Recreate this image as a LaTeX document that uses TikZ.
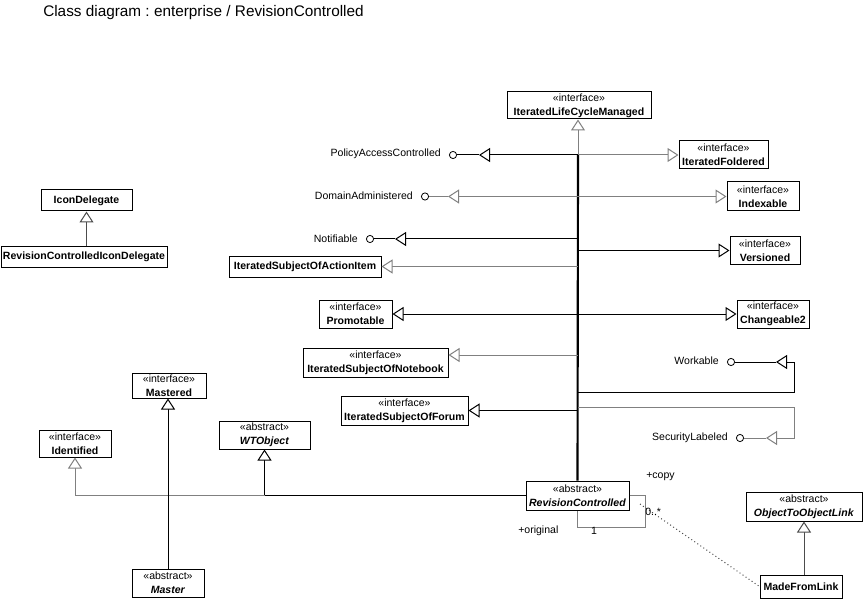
\documentclass[tikz,border=0pt]{standalone}
\usepackage{fontspec}
\setmainfont{Liberation Sans}
\usetikzlibrary{arrows.meta,calc}
\frenchspacing
\newcommand\iface[1]{«interface»\\\textbf{#1}}
\newcommand\abst[1]{«abstract»\\\textbf{\itshape #1}}
% class box given by its name, left, top, right, bottom and text
\newcommand\clsbox[6]{\node[cls, minimum width={(#4-#2)*0.75pt}, minimum height={(#5-#3)*0.75pt}]
  (#1) at ({(#2+#4)/2},{(#3+#5)/2}) {#6};}
\begin{document}
\begin{tikzpicture}[x=0.75pt,y=-0.75pt,
  txt/.style={font=\fontsize{7.9}{9.2}\selectfont, inner sep=0pt},
  cls/.style={draw=black, fill=white, line width=0.75pt, inner sep=0pt, align=center,
              font=\fontsize{7.9}{10.3}\selectfont},
  ball/.style={circle, draw=black, fill=white, line width=0.6pt, inner sep=0pt, minimum size=5.4pt},
  blk/.style={draw=black, line width=0.75pt},
  gry/.style={draw=black!50, line width=0.75pt},
  dgry/.style={draw=black!70, line width=0.75pt},
  main/.style={draw=black, line width=1.6pt},
  gen/.style={-{Triangle[open, length=8.25pt, width=10.5pt, fill=white]}},
  gen2/.style={{Triangle[open, length=8.25pt, width=10.5pt, fill=white]}-{Triangle[open, length=8.25pt, width=10.5pt, fill=white]}},
  dots/.style={draw=black!70, line width=0.75pt, dash pattern=on 0.75pt off 2pt},
]
\useasboundingbox (0,0) rectangle (863,602);

\node[anchor=west, inner sep=0pt, font=\fontsize{11.5}{14}\selectfont] (title) at (43,13)
  {Class diagram : enterprise / RevisionControlled};

% classes and interfaces
\clsbox{ilcm}{507}{92}{651}{119}{\iface{IteratedLifeCycleManaged}}
\clsbox{ifold}{679}{141}{768}{169}{\iface{IteratedFoldered}}
\clsbox{idx}{727}{182}{799}{211}{\iface{Indexable}}
\clsbox{ver}{730}{237}{800}{264}{\iface{Versioned}}
\clsbox{isai}{229}{256}{381}{277}{\textbf{IteratedSubjectOfActionItem}}
\clsbox{prom}{319}{300}{392}{328}{\iface{Promotable}}
\clsbox{chg}{737}{300}{809}{328}{\iface{Changeable2}}
\clsbox{isnb}{303}{348}{448}{377}{\iface{IteratedSubjectOfNotebook}}
\clsbox{isf}{341}{396}{468}{425}{\iface{IteratedSubjectOfForum}}
\clsbox{rc}{526}{481}{629}{510}{\abst{RevisionControlled}}
\clsbox{o2o}{746}{492}{862}{521}{\abst{ObjectToObjectLink}}
\clsbox{mfl}{760}{575}{842}{598}{\textbf{MadeFromLink}}
\clsbox{ident}{39}{430}{111}{457}{\iface{Identified}}
\clsbox{mast}{132}{373}{206}{398}{\iface{Mastered}}
\clsbox{master}{132}{569}{204}{597}{\abst{Master}}
\clsbox{wto}{219}{421}{310}{449}{\abst{WTObject}}
\clsbox{icon}{41}{190}{132}{211}{\textbf{IconDelegate}}
\clsbox{rcid}{1}{247}{167}{267}{\textbf{RevisionControlledIconDelegate}}

% provided interfaces (lollipops)
\node[ball] (pac) at (453,155) {};
\node[txt, anchor=east] (paclbl) at (441,154) {PolicyAccessControlled};
\node[ball] (dom) at (425,196.5) {};
\node[txt, anchor=east] (domlbl) at (413,196) {DomainAdministered};
\node[ball] (notif) at (370,239) {};
\node[txt, anchor=east] (notiflbl) at (358,239) {Notifiable};
\node[ball] (work) at (731,362) {};
\node[txt, anchor=east] (worklbl) at (719,361) {Workable};
\node[ball] (sec) at (740,438) {};
\node[txt, anchor=east] (seclbl) at (728,438) {SecurityLabeled};

% helper points
\coordinate (hub) at (578,0);
\coordinate (pactip) at (479,155);
\coordinate (domtip) at (448,196.5);
\coordinate (notiftip) at (395,239);
\coordinate (wk1) at (794,392);
\coordinate (wk2) at (794,362);
\coordinate (worktip) at (776,362);
\coordinate (sc1) at (794,407);
\coordinate (sc2) at (794,438);
\coordinate (sectip) at (766,438);
\coordinate (nbport) at ($(isnb.east)+(0,-7.5)$);

% generalization spine of RevisionControlled
\draw[main] (rc.north) -- (hub |- pac);
\draw[gry,gen] (hub |- pac) -- (hub |- ilcm.south);
\draw[blk,gen] (hub |- pac) -- (pactip);
\draw[blk] (pactip) -- (pac);
\draw[gry,gen] (hub |- ifold.west) -- (ifold.west);
\draw[gry,gen2] (domtip) -- (idx.west);
\draw[gry] (domtip) -- (dom);
\draw[blk,gen] (hub |- notif) -- (notiftip);
\draw[blk] (notiftip) -- (notif);
\draw[blk,gen] (hub |- ver.west) -- (ver.west);
\draw[gry,gen] (hub |- isai.east) -- (isai.east);
\draw[blk,gen2] (prom.east) -- (chg.west);
\draw[gry,gen] (hub |- nbport) -- (nbport);
\draw[blk,gen] (hub |- wk1) -- (wk1) -- (wk2) -- (worktip);
\draw[blk] (worktip) -- (work);
\draw[gry,gen] (hub |- sc1) -- (sc1) -- (sc2) -- (sectip);
\draw[gry] (sectip) -- (sec);
\draw[blk,gen] (hub |- isf.east) -- (isf.east);

% left-hand generalizations
\draw[blk,gen] (rc.west) -- (wto.south |- rc.west) -- (wto.south);
\draw[gry,gen] (wto.south |- rc.west) -- (ident.south |- rc.west) -- (ident.south);
\draw[blk,gen] (master.north) -- (master.north |- mast.south);
\draw[dgry,gen] (icon.south |- rcid.north) -- (icon.south);

% self association with association class
\coordinate (sa1) at (645,495.5);
\coordinate (sa2) at (645,527);
\coordinate (amid) at (640,504);
\draw[gry] (rc.east) -- (sa1) -- (sa2) -- (rc.south |- sa2) -- (rc.south);
\draw[dots] (amid) -- (mfl.west);
\draw[dgry,gen] (o2o.south |- mfl.north) -- (o2o.south);
\node[txt, anchor=west] (copy) at (646,477) {+copy};
\node[txt, anchor=west] (orig) at (518,531) {+original};
\node[txt] (one) at (594,531) {1};
\node[txt, anchor=west] (many) at (645,512) {0..*};
\end{tikzpicture}
\end{document}
